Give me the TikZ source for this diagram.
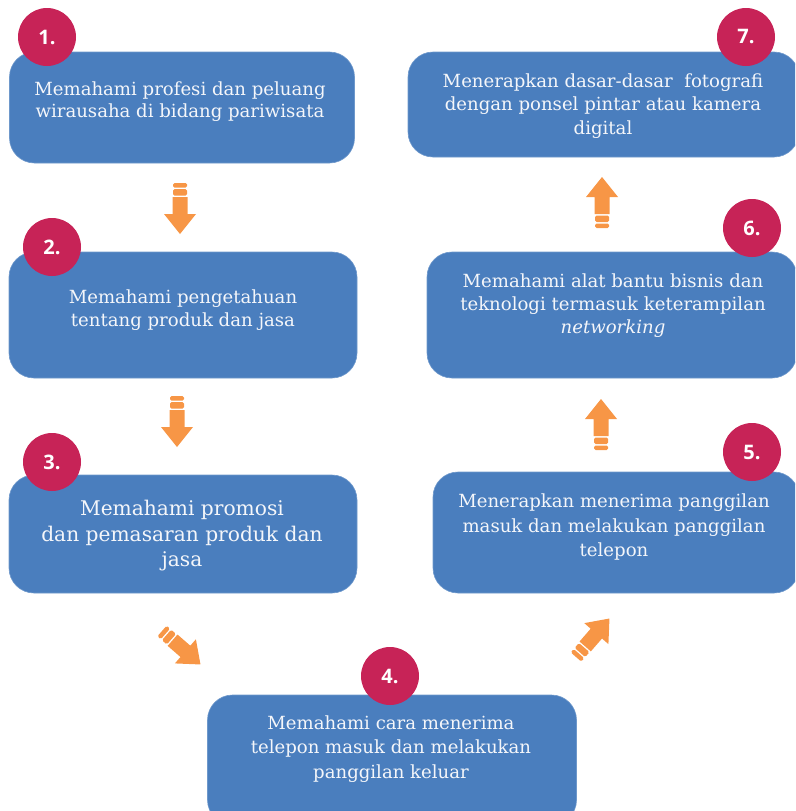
\documentclass[tikz,border=0pt]{standalone}
\usepackage{fontspec}
\setmainfont{DejaVu Serif}
\newfontfamily\numfont{Open Sans}
\definecolor{boxc}{HTML}{4A7EBE}
\definecolor{numc}{HTML}{C72357}
\definecolor{arrowc}{HTML}{F79646}
\definecolor{txtc}{HTML}{F4F6FA}
\tikzset{
  box/.style={fill=boxc, draw=boxc!80!white, line width=0.6pt, rounded corners=25pt, inner sep=0pt},
  numcircle/.style={circle, fill=numc, minimum size=58pt, inner sep=0pt, text=white, font=\numfont\bfseries\fontsize{20}{22}\selectfont},
  txt/.style={text=txtc, align=center, font=\fontsize{18.1}{23}\selectfont},
  bigtxt/.style={text=txtc, align=center, font=\fontsize{20.2}{25.5}\selectfont},
  fatarrow/.pic={
    \fill[arrowc, rounded corners=1.5pt] (0,-7) rectangle (4.5,7);
    \fill[arrowc, rounded corners=1.5pt] (6,-7) rectangle (12.5,7);
    \fill[arrowc] (14,-7.5) -- (31,-7.5) -- (31,-16) -- (51,0) -- (31,16) -- (31,7.5) -- (14,7.5) -- cycle;
  }
}
\begin{document}
\begin{tikzpicture}[x=1pt,y=-1pt]
\useasboundingbox (0,0) rectangle (795,811);
\clip (0,0) rectangle (795,811);
% boxes
\node[box, minimum width=345pt, minimum height=111pt] (b1) at (182,107.5) {};
\node[box, minimum width=348pt, minimum height=126pt] (b2) at (183,315) {};
\node[box, minimum width=348pt, minimum height=118pt] (b3) at (183,534) {};
\node[box, minimum width=369pt, minimum height=130pt] (b4) at (392,760) {};
\node[box, minimum width=366pt, minimum height=121pt] (b5) at (616,532.5) {};
\node[box, minimum width=370pt, minimum height=126pt] (b6) at (612,315) {};
\node[box, minimum width=391pt, minimum height=105pt] (b7) at (603.5,104.5) {};
% texts
\node[txt, font=\fontsize{18.1}{22}\selectfont] (t1) at (180,102) {Memahami profesi dan peluang\\wirausaha di bidang pariwisata};
\node[txt] (t2) at (183,310) {Memahami pengetahuan\\tentang produk dan jasa};
\node[bigtxt] (t3) at (182,536) {Memahami promosi\\dan pemasaran produk dan\\jasa};
\node[txt, font=\fontsize{18.1}{24.5}\selectfont] (t4) at (391,749) {Memahami cara menerima\\telepon masuk dan melakukan\\panggilan keluar};
\node[txt, font=\fontsize{18.1}{24}\selectfont] (t5) at (614,527) {Menerapkan menerima panggilan\\masuk dan melakukan panggilan\\telepon};
\node[txt] (t6) at (613,306) {Memahami alat bantu bisnis dan\\teknologi termasuk keterampilan\\\itshape networking};
\node[txt, font=\fontsize{18.1}{23.5}\selectfont] (t7) at (603,106) {Menerapkan dasar-dasar~ fotografi\\dengan ponsel pintar atau kamera\\digital};
% number circles
\node[numcircle] (n1) at (47,37) {1.};
\node[numcircle] (n2) at (52,247) {2.};
\node[numcircle] (n3) at (52,462) {3.};
\node[numcircle] (n4) at (390,676) {4.};
\node[numcircle] (n5) at (752,452) {5.};
\node[numcircle] (n6) at (752,228) {6.};
\node[numcircle] (n7) at (746,37) {7.};
% arrows
\pic[rotate=-90] at (180,183) {fatarrow};
\pic[rotate=-90] at (177,396) {fatarrow};
\pic[rotate=-41] at (162,631) {fatarrow};
\pic[rotate=49] at (576,657) {fatarrow};
\pic[rotate=90] at (601,450) {fatarrow};
\pic[rotate=90] at (602,228) {fatarrow};
\end{tikzpicture}
\end{document}
